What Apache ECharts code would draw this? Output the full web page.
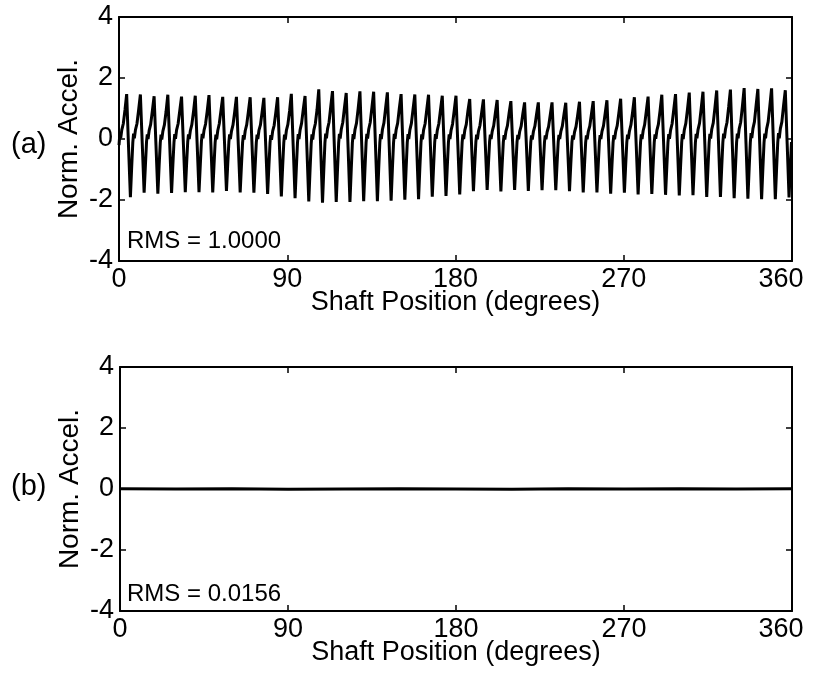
<!DOCTYPE html>
<html>
<head>
<meta charset="utf-8">
<script src="https://cdn.jsdelivr.net/npm/echarts@6/dist/echarts.min.js"></script>
<style>
  html, body { margin: 0; padding: 0; background: #ffffff; }
  #chart { width: 820px; height: 675px; }
</style>
</head>
<body>
<div id="chart"></div>
<script>
// Shaft angle axis ticks (degrees) and acceleration ticks
const xTicks = [0, 90, 180, 270, 360];
const yTicks = [-4, -2, 0, 2, 4];

// Gear-mesh signal: 49 teeth per revolution
const firstPeakDeg = 4.1;     // angle of the first tooth peak
const toothPitch = 7.34;      // degrees between tooth peaks
// angle offsets (deg) after each tooth peak at which the samples below are taken
const toothPhase = [0, 1.0, 2.0, 2.7, 3.3, 3.7, 4.1, 4.7, 5.5, 6.4];

// samples before the first peak: [deg, value]
const leadIn = [[0, -0.20], [0.5, 0.20], [0.9, 0.02], [1.5, 0.30], [2.3, 0.50], [3.2, 0.95]];

// per tooth: peak, fall, trough, rise, rise, bump, notch, shoulder, shoulder, climb
const teeth = [
  [1.47, -0.25, -1.91, -0.90, -0.10, 0.18, 0.02, 0.30, 0.50, 0.95],
  [1.46, -0.15, -1.76, -0.85, -0.08, 0.15, 0.00, 0.28, 0.48, 0.92],
  [1.40, -0.20, -1.79, -0.86, -0.12, 0.14, -0.02, 0.26, 0.46, 0.90],
  [1.45, -0.16, -1.77, -0.84, -0.10, 0.16, 0.01, 0.30, 0.50, 0.94],
  [1.39, -0.18, -1.74, -0.82, -0.09, 0.15, 0.00, 0.27, 0.47, 0.90],
  [1.42, -0.16, -1.74, -0.83, -0.08, 0.17, 0.02, 0.29, 0.49, 0.92],
  [1.44, -0.15, -1.75, -0.84, -0.10, 0.14, -0.01, 0.28, 0.50, 0.93],
  [1.38, -0.17, -1.70, -0.80, -0.09, 0.15, 0.00, 0.26, 0.46, 0.89],
  [1.38, -0.19, -1.75, -0.84, -0.11, 0.13, -0.02, 0.27, 0.47, 0.90],
  [1.37, -0.20, -1.76, -0.85, -0.10, 0.14, 0.00, 0.28, 0.46, 0.89],
  [1.35, -0.23, -1.80, -0.87, -0.12, 0.13, -0.03, 0.26, 0.45, 0.88],
  [1.37, -0.26, -1.88, -0.90, -0.13, 0.14, -0.02, 0.28, 0.48, 0.92],
  [1.48, -0.23, -1.94, -0.93, -0.12, 0.16, 0.00, 0.30, 0.52, 0.98],
  [1.41, -0.32, -2.05, -0.98, -0.14, 0.15, -0.02, 0.29, 0.50, 0.95],
  [1.63, -0.23, -2.09, -1.00, -0.12, 0.18, 0.02, 0.33, 0.55, 1.06],
  [1.57, -0.25, -2.06, -0.98, -0.13, 0.17, 0.01, 0.32, 0.54, 1.03],
  [1.51, -0.28, -2.06, -0.99, -0.12, 0.16, 0.00, 0.31, 0.52, 1.00],
  [1.56, -0.24, -2.04, -0.97, -0.11, 0.17, 0.01, 0.32, 0.54, 1.03],
  [1.55, -0.25, -2.04, -0.97, -0.12, 0.16, 0.00, 0.31, 0.53, 1.02],
  [1.53, -0.25, -2.02, -0.96, -0.12, 0.17, 0.01, 0.31, 0.52, 1.01],
  [1.47, -0.26, -1.99, -0.95, -0.11, 0.16, 0.00, 0.30, 0.51, 0.98],
  [1.46, -0.26, -1.97, -0.94, -0.12, 0.15, -0.01, 0.30, 0.50, 0.97],
  [1.45, -0.22, -1.89, -0.90, -0.10, 0.16, 0.01, 0.29, 0.50, 0.96],
  [1.42, -0.23, -1.87, -0.89, -0.11, 0.15, 0.00, 0.28, 0.49, 0.94],
  [1.42, -0.20, -1.82, -0.87, -0.10, 0.15, 0.00, 0.28, 0.48, 0.93],
  [1.31, -0.20, -1.71, -0.82, -0.09, 0.14, -0.01, 0.26, 0.45, 0.87],
  [1.30, -0.18, -1.67, -0.80, -0.08, 0.14, 0.00, 0.25, 0.44, 0.86],
  [1.28, -0.22, -1.72, -0.82, -0.10, 0.13, -0.02, 0.25, 0.44, 0.85],
  [1.24, -0.21, -1.67, -0.80, -0.09, 0.13, -0.01, 0.24, 0.42, 0.83],
  [1.20, -0.25, -1.70, -0.81, -0.10, 0.12, -0.02, 0.24, 0.42, 0.81],
  [1.20, -0.24, -1.68, -0.80, -0.10, 0.12, -0.01, 0.23, 0.41, 0.80],
  [1.20, -0.24, -1.68, -0.80, -0.09, 0.13, 0.00, 0.24, 0.42, 0.81],
  [1.19, -0.26, -1.71, -0.82, -0.10, 0.12, -0.02, 0.23, 0.41, 0.80],
  [1.22, -0.26, -1.75, -0.84, -0.11, 0.12, -0.01, 0.24, 0.42, 0.82],
  [1.24, -0.25, -1.75, -0.84, -0.10, 0.13, 0.00, 0.25, 0.43, 0.84],
  [1.27, -0.26, -1.79, -0.86, -0.11, 0.13, -0.01, 0.25, 0.44, 0.86],
  [1.32, -0.22, -1.76, -0.84, -0.10, 0.14, 0.00, 0.26, 0.46, 0.89],
  [1.37, -0.22, -1.82, -0.87, -0.11, 0.15, 0.00, 0.27, 0.47, 0.92],
  [1.39, -0.20, -1.80, -0.86, -0.10, 0.15, 0.01, 0.28, 0.48, 0.93],
  [1.45, -0.19, -1.83, -0.88, -0.10, 0.16, 0.01, 0.29, 0.50, 0.97],
  [1.47, -0.19, -1.85, -0.89, -0.11, 0.16, 0.00, 0.30, 0.51, 0.98],
  [1.52, -0.16, -1.84, -0.88, -0.10, 0.17, 0.02, 0.31, 0.52, 1.01],
  [1.55, -0.17, -1.90, -0.91, -0.11, 0.17, 0.01, 0.32, 0.53, 1.03],
  [1.59, -0.16, -1.90, -0.91, -0.10, 0.18, 0.02, 0.32, 0.54, 1.05],
  [1.62, -0.16, -1.94, -0.93, -0.11, 0.18, 0.02, 0.33, 0.55, 1.07],
  [1.67, -0.15, -1.96, -0.94, -0.11, 0.19, 0.03, 0.34, 0.56, 1.10],
  [1.64, -0.17, -1.97, -0.94, -0.12, 0.18, 0.02, 0.33, 0.56, 1.08],
  [1.66, -0.16, -1.97, -0.94, -0.11, 0.19, 0.02, 0.34, 0.56, 1.09],
  [1.60, -0.16, -1.92, -0.92, -0.10, 0.18, 0.02, 0.33, 0.55, 1.06]
];

// residual after removing the tooth-mesh component
const residualDeg = [0, 30, 60, 90, 120, 150, 180, 210, 240, 270, 300, 330, 360];
const residualVal = [0.01, 0.00, 0.01, -0.01, 0.00, 0.01, 0.00, -0.01, 0.01, 0.00, 0.01, 0.00, 0.01];

const rmsTop = 'RMS = 1.0000';
const rmsBottom = 'RMS = 0.0156';

// assemble [deg, value] pairs for the measured signal
const signal = leadIn.slice();
teeth.forEach(function (row, k) {
  const base = firstPeakDeg + k * toothPitch;
  row.forEach(function (v, j) {
    const deg = base + toothPhase[j];
    if (deg <= 360) signal.push([+deg.toFixed(3), v]);
  });
});
const residual = residualDeg.map(function (d, i) { return [d, residualVal[i]]; });

const FONT = 'Liberation Sans, Arial, Helvetica, sans-serif';
const black = '#000000';

function xAxisPair(gridIndex) {
  const common = {
    type: 'value', gridIndex: gridIndex, min: 0, max: 360, interval: 90,
    splitLine: { show: false },
    axisLine: { show: true, onZero: false, lineStyle: { color: black, width: 2 } },
    axisTick: { show: true, inside: true, length: 6, lineStyle: { color: black, width: 1.5 } }
  };
  return [
    Object.assign({}, common, {
      position: 'bottom',
      name: 'Shaft Position (degrees)', nameLocation: 'middle', nameGap: 28,
      nameMoveOverlap: false,
      nameTextStyle: { color: black, fontFamily: FONT, fontSize: 27, verticalAlign: 'top' },
      axisLabel: { color: black, fontFamily: FONT, fontSize: 27, margin: 5,
        formatter: function (v) {
          if (xTicks.indexOf(v) < 0) return '';
          return v === 360 ? '{end|' + v + '}' : String(v);
        },
        rich: { end: { fontFamily: FONT, fontSize: 27, color: black, padding: [0, 22, 0, 0] } }
      }
    }),
    Object.assign({}, common, { position: 'top', axisLabel: { show: false } })
  ];
}

function yAxisPair(gridIndex) {
  const common = {
    type: 'value', gridIndex: gridIndex, min: -4, max: 4, interval: 2,
    splitLine: { show: false },
    axisLine: { show: true, onZero: false, lineStyle: { color: black, width: 2 } },
    axisTick: { show: true, inside: true, length: 6, lineStyle: { color: black, width: 1.5 } }
  };
  return [
    Object.assign({}, common, {
      position: 'left',
      name: 'Norm. Accel.', nameLocation: 'middle', nameGap: 36, nameRotate: 90,
      nameMoveOverlap: false,
      nameTextStyle: { color: black, fontFamily: FONT, fontSize: 28 },
      axisLabel: { color: black, fontFamily: FONT, fontSize: 27, margin: 6,
        formatter: function (v) { return yTicks.indexOf(v) >= 0 ? String(v) : ''; } }
    }),
    Object.assign({}, common, { position: 'right', axisLabel: { show: false } })
  ];
}

const chart = echarts.init(document.getElementById('chart'), null, { renderer: 'canvas' });
chart.setOption({
  backgroundColor: '#ffffff',
  animation: false,
  grid: [
    { left: 119, top: 17, width: 673, height: 244 },
    { left: 120, top: 367, width: 672, height: 244 }
  ],
  xAxis: xAxisPair(0).concat(xAxisPair(1)),
  yAxis: yAxisPair(0).concat(yAxisPair(1)),
  series: [
    {
      type: 'line', xAxisIndex: 0, yAxisIndex: 0, data: signal,
      showSymbol: false, lineStyle: { color: black, width: 3 }, clip: true
    },
    {
      type: 'line', xAxisIndex: 2, yAxisIndex: 2, data: residual,
      showSymbol: false, lineStyle: { color: black, width: 3 }
    }
  ],
  graphic: [
    { type: 'text', left: 11, top: 130, style: { text: '(a)', font: '29px ' + FONT, fill: black } },
    { type: 'text', left: 11, top: 472, style: { text: '(b)', font: '29px ' + FONT, fill: black } },
    { type: 'text', left: 127, top: 229, style: { text: rmsTop, font: '24px ' + FONT, fill: black } },
    { type: 'text', left: 127, top: 582, style: { text: rmsBottom, font: '24px ' + FONT, fill: black } }
  ]
});
</script>
</body>
</html>
